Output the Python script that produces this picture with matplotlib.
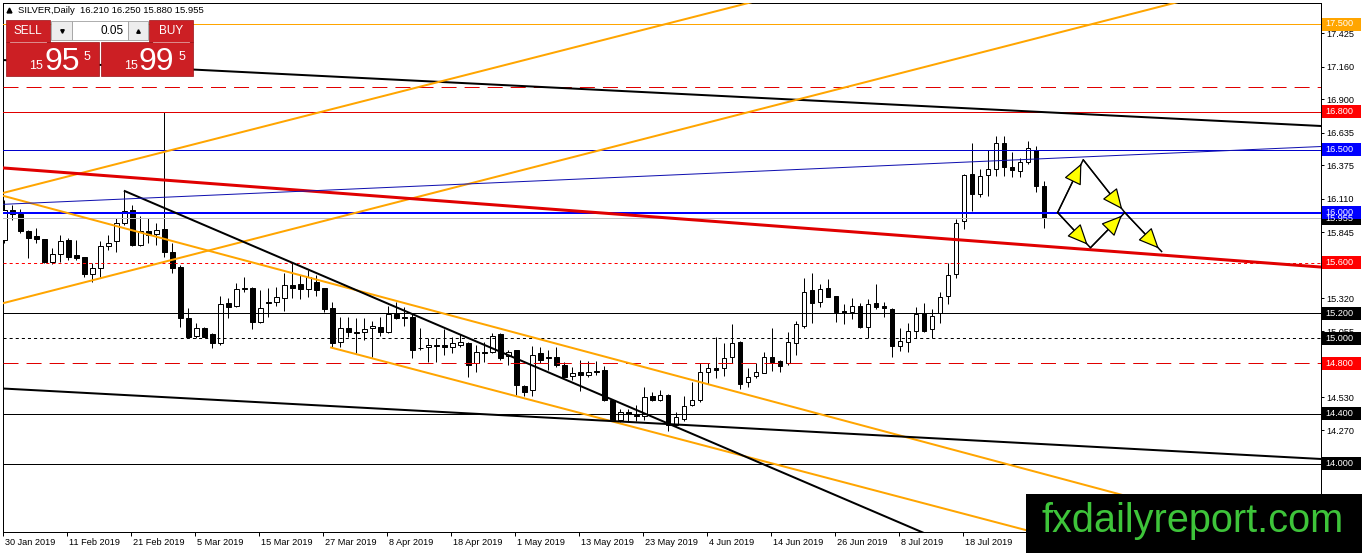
import numpy as np
import matplotlib.pyplot as plt
import matplotlib.transforms as mtransforms
from matplotlib.patches import Rectangle, FancyArrowPatch

plt.rcParams['font.family'] = ['Liberation Sans', 'DejaVu Sans']
plt.rcParams['lines.scale_dashes'] = False

W, H = 1362, 553
PX = 0.72  # one screen pixel in points (dpi 100)

# daily OHLC, SILVER, 30 Jan 2019 .. 1 Aug 2019
opens = [15.78, 16.02, 15.99, 15.85, 15.81, 15.79, 15.61, 15.67, 15.78, 15.66,
         15.65, 15.51, 15.56, 15.73, 15.77, 15.92, 16.02, 15.74, 15.85, 15.83,
         15.87, 15.69, 15.57, 15.16, 15.02, 15.08, 15.03, 14.96, 15.28, 15.26,
         15.39, 15.40, 15.13, 15.29, 15.29, 15.32, 15.42, 15.43, 15.39, 15.45,
         15.40, 15.24, 14.97, 15.08, 15.05, 15.05, 15.08, 15.09, 15.05, 15.19,
         15.17, 15.17, 14.92, 14.93, 14.95, 14.95, 14.93, 14.95, 14.96, 14.80,
         14.89, 14.89, 15.03, 14.86, 14.91, 14.62, 14.59, 14.88, 14.85, 14.85,
         14.79, 14.70, 14.73, 14.71, 14.74, 14.75, 14.51, 14.35, 14.41, 14.39,
         14.38, 14.54, 14.51, 14.55, 14.31, 14.36, 14.47, 14.51, 14.73, 14.76,
         14.76, 14.85, 14.97, 14.65, 14.70, 14.72, 14.85, 14.82, 14.80, 14.96,
         15.10, 15.38, 15.29, 15.40, 15.34, 15.22, 15.21, 15.26, 15.09, 15.28,
         15.26, 15.23, 14.94, 14.97, 15.06, 15.20, 15.07, 15.20, 15.34, 15.51,
         15.93, 16.31, 16.15, 16.30, 16.35, 16.55, 16.36, 16.33, 16.40, 16.50,
         16.21]
highs = [16.10, 16.06, 16.03, 15.86, 15.88, 15.79, 15.72, 15.82, 15.80, 15.78,
         15.65, 15.60, 15.77, 15.82, 15.96, 16.17, 16.06, 15.97, 15.96, 15.92,
         16.80, 15.76, 15.58, 15.24, 15.12, 15.09, 15.04, 15.34, 15.32, 15.44,
         15.49, 15.41, 15.38, 15.40, 15.41, 15.52, 15.60, 15.50, 15.54, 15.50,
         15.40, 15.29, 15.17, 15.17, 15.16, 15.16, 15.14, 15.17, 15.26, 15.29,
         15.25, 15.20, 15.08, 15.00, 15.00, 15.07, 15.01, 15.03, 14.97, 14.95,
         14.97, 15.04, 15.04, 14.91, 14.91, 14.63, 14.94, 14.93, 14.91, 14.93,
         14.81, 14.77, 14.83, 14.82, 14.82, 14.78, 14.52, 14.44, 14.44, 14.47,
         14.61, 14.57, 14.59, 14.56, 14.41, 14.54, 14.65, 14.80, 14.80, 15.01,
         14.96, 15.11, 14.98, 14.76, 14.80, 14.89, 15.08, 14.83, 15.05, 15.14,
         15.48, 15.52, 15.43, 15.47, 15.34, 15.27, 15.32, 15.28, 15.31, 15.43,
         15.29, 15.24, 15.08, 15.12, 15.25, 15.28, 15.23, 15.37, 15.60, 15.95,
         16.31, 16.55, 16.35, 16.50, 16.61, 16.61, 16.48, 16.43, 16.57, 16.53,
         16.25]
lows = [15.76, 15.94, 15.84, 15.64, 15.76, 15.60, 15.59, 15.61, 15.62, 15.62,
        15.49, 15.45, 15.49, 15.70, 15.69, 15.90, 15.73, 15.73, 15.76, 15.74,
        15.65, 15.52, 15.09, 15.01, 15.00, 15.01, 14.92, 14.95, 15.16, 15.25,
        15.37, 15.07, 15.12, 15.17, 15.26, 15.22, 15.32, 15.31, 15.33, 15.34,
        15.21, 14.93, 14.93, 15.01, 14.88, 14.99, 14.85, 15.02, 15.04, 15.15,
        15.10, 14.84, 14.91, 14.81, 14.81, 14.87, 14.88, 14.93, 14.69, 14.73,
        14.81, 14.88, 14.83, 14.79, 14.55, 14.54, 14.54, 14.80, 14.75, 14.77,
        14.69, 14.67, 14.58, 14.69, 14.71, 14.50, 14.34, 14.33, 14.34, 14.34,
        14.35, 14.50, 14.50, 14.26, 14.30, 14.34, 14.46, 14.49, 14.64, 14.68,
        14.70, 14.80, 14.60, 14.61, 14.68, 14.72, 14.74, 14.73, 14.79, 14.87,
        15.08, 15.12, 15.25, 15.33, 15.13, 15.11, 15.15, 15.08, 15.00, 15.23,
        15.17, 14.85, 14.90, 14.89, 15.00, 15.05, 15.00, 15.12, 15.27, 15.48,
        15.87, 16.01, 16.12, 16.13, 16.29, 16.29, 16.28, 16.28, 16.39, 16.16,
        15.88]
closes = [16.02, 15.99, 15.85, 15.80, 15.79, 15.61, 15.67, 15.77, 15.65, 15.64,
          15.51, 15.56, 15.73, 15.76, 15.92, 16.01, 15.74, 15.85, 15.82, 15.86,
          15.69, 15.56, 15.16, 15.01, 15.08, 15.01, 14.96, 15.27, 15.25, 15.39,
          15.40, 15.13, 15.24, 15.28, 15.33, 15.42, 15.40, 15.39, 15.49, 15.38,
          15.23, 14.96, 15.08, 15.05, 15.04, 15.07, 15.10, 15.05, 15.19, 15.16,
          15.16, 14.91, 14.92, 14.95, 14.94, 14.93, 14.96, 14.97, 14.79, 14.89,
          14.88, 15.02, 14.84, 14.89, 14.63, 14.57, 14.87, 14.83, 14.84, 14.79,
          14.69, 14.72, 14.71, 14.73, 14.73, 14.51, 14.35, 14.41, 14.40, 14.38,
          14.53, 14.51, 14.55, 14.31, 14.37, 14.46, 14.51, 14.73, 14.76, 14.75,
          14.84, 14.96, 14.64, 14.69, 14.73, 14.85, 14.81, 14.78, 14.97, 15.11,
          15.37, 15.28, 15.39, 15.33, 15.21, 15.20, 15.26, 15.09, 15.27, 15.25,
          15.24, 14.94, 14.98, 15.06, 15.19, 15.06, 15.18, 15.33, 15.50, 15.92,
          16.30, 16.15, 16.29, 16.35, 16.55, 16.36, 16.34, 16.40, 16.51, 16.21,
          15.955]

date_labels = ['30 Jan 2019', '11 Feb 2019', '21 Feb 2019', '5 Mar 2019', '15 Mar 2019',
               '27 Mar 2019', '8 Apr 2019', '18 Apr 2019', '1 May 2019', '13 May 2019',
               '23 May 2019', '4 Jun 2019', '14 Jun 2019', '26 Jun 2019', '8 Jul 2019',
               '18 Jul 2019', '30 Jul 2019']
label_step = 8

price_ticks = [17.425, 17.160, 16.900, 16.635, 16.375, 16.110, 15.845, 15.320,
               15.055, 14.530, 14.270, 13.745]

# horizontal levels drawn on the chart
levels = [17.5, 17.0, 16.8, 16.5, 16.0, 15.955, 15.6, 15.2, 15.0, 14.8, 14.4, 14.0]
level_colors = ['#FFA500', '#E00000', '#E00000', '#0000CC', '#0000FF', '#C0C0C0',
                '#FF0000', 'black', 'black', '#E00000', 'black', 'black']
level_dash = ['solid', 'long', 'solid', 'solid', 'solid', 'solid',
              'dot', 'solid', 'dot', 'long', 'solid', 'solid']
level_px = [1, 1, 1, 1, 2, 1, 1, 1, 1, 1, 1, 1]
level_tag = ['#FFA500', None, '#FF0000', '#0000FF', '#0000FF', 'black',
             '#FF0000', 'black', 'black', '#FF0000', 'black', 'black']

# trend lines: (bar, price) -> (bar, price), drawn as rays to the right
trend_lines = [
    ((-1.0, 17.216), (164.5, 16.689)),
    ((-1.0, 16.142), (92.6, 17.660)),
    ((-1.0, 15.265), (144.5, 17.638)),
    ((-1.0, 16.148), (140.75, 13.737)),
    ((40.75, 14.928), (127.6, 13.476)),
    ((14.96, 16.174), (113.25, 13.498)),
    ((-1.0, 14.603), (164.5, 14.040)),
    ((-1.0, 16.359), (164.5, 15.567)),
    ((-1.0, 16.063), (164.5, 16.525)),
]
trend_colors = ['black', '#FFA500', '#FFA500', '#FFA500', '#FFA500',
                'black', 'black', '#E00000', '#1010B0']
trend_px = [2, 2, 2, 2, 2, 2, 2, 3, 1]

# projected zigzag with arrows
zig_main = [(131.7, 16.0), (134.9, 16.42), (140.1, 16.0), (144.7, 15.69)]
zig_alt = [(131.7, 16.0), (135.8, 15.72), (140.1, 16.0)]

fig = plt.figure(figsize=(W / 100, H / 100), dpi=100)
fig.patch.set_facecolor('white')
ax = fig.add_axes([3 / W, 1 - 532 / H, 1318 / W, 529 / H])
ax.set_xlim(-0.125, 164.625)
ax.set_ylim(17.5 - (532 - 24) / 125.7, 17.5 + 21 / 125.7)

bars = np.arange(len(opens))
o = np.array(opens)
c = np.array(closes)
ax.vlines(bars, lows, highs, color='black', lw=PX, zorder=2)
ax.bar(bars, np.abs(c - o), bottom=np.minimum(o, c), width=0.6,
       color=np.where(c >= o, 'white', 'black'), edgecolor='black',
       linewidth=PX, zorder=3)

dash_map = {'solid': '-', 'long': (0, (10.8, 5.8)), 'dot': (0, (2.2, 2.2))}
for lv, col, ds, w in zip(levels, level_colors, level_dash, level_px):
    ax.axhline(lv, color=col, linestyle=dash_map[ds], lw=w * PX, zorder=4)

for ((b1, p1), (b2, p2)), col, w in zip(trend_lines, trend_colors, trend_px):
    slope = (p2 - p1) / (b2 - b1)
    bx = np.array([b1, 200.0])
    ax.plot(bx, p1 + slope * (bx - b1), color=col, lw=w * PX,
            solid_capstyle='butt', zorder=5)

for path in (zig_main, zig_alt):
    zx, zy = zip(*path)
    ax.plot(zx, zy, color='black', lw=1.5 * PX, zorder=6)
    for a, b in zip(path[:-1], path[1:]):
        ax.add_patch(FancyArrowPatch(a, b, arrowstyle='-|>,head_length=1.0,head_width=0.45',
                                     mutation_scale=13, shrinkA=0, shrinkB=3,
                                     facecolor='#FFFF00', edgecolor='black',
                                     lw=1.2 * PX, zorder=7))

for s in ax.spines.values():
    s.set_linewidth(PX)
    s.set_color('black')

ax.yaxis.tick_right()
ax.set_yticks(price_ticks)
ax.set_yticklabels([f'{t:.3f}' for t in price_ticks])
ax.tick_params(axis='y', direction='out', length=3 * PX, width=PX, pad=2,
               labelsize=6.6, colors='black')

ax.set_xticks(np.arange(len(date_labels)) * label_step - 0.15)
ax.set_xticklabels(date_labels)
ax.tick_params(axis='x', direction='out', length=4 * PX, width=PX, pad=1.5,
               labelsize=6.6)
shift = mtransforms.ScaledTranslation(2 / 100, 0, fig.dpi_scale_trans)
for lab in ax.get_xticklabels():
    lab.set_horizontalalignment('left')
    lab.set_transform(lab.get_transform() + shift)

# price tags on the right scale
tag_tr = mtransforms.blended_transform_factory(ax.transAxes, ax.transData)
order = sorted(range(len(levels)), key=lambda i: levels[i] == 16.0)
for i in order:
    if level_tag[i] is None:
        continue
    lv = levels[i]
    ax.add_patch(Rectangle((1 + 1 / 1318, lv - 6.5 / 125.7), 39 / 1318, 13 / 125.7,
                           transform=tag_tr, facecolor=level_tag[i], edgecolor='none',
                           clip_on=False, zorder=8))
    ax.text(1 + 4 / 1318, lv, f'{lv:.3f}', transform=tag_tr, color='white',
            fontsize=6.6, va='center', ha='left', clip_on=False, zorder=9)

# overlay in screen pixels: header, trade panel, watermark
ov = fig.add_axes([0, 0, 1, 1], zorder=10)
ov.set_xlim(0, W)
ov.set_ylim(H, 0)
ov.axis('off')
ov.patch.set_alpha(0)

ov.plot([9], [10], marker='^', color='black', markersize=3.5)
ov.text(18, 10.5, f'SILVER,Daily  {opens[-1]:.3f} {highs[-1]:.3f} {lows[-1]:.3f} {closes[-1]:.3f}',
        fontsize=6.8, va='center', ha='left', color='black')

red = '#CC1F24'
for (x0, y0, x1, y1) in [(6, 20, 50, 42), (149, 20, 193, 42), (6, 42, 99, 76), (101, 42, 193, 76)]:
    ov.add_patch(Rectangle((x0, y0), x1 - x0, y1 - y0, facecolor=red, edgecolor='#9A1015', lw=0.5))
ov.plot([10, 46], [42, 42], color='#E8A0A0', lw=0.6)
ov.plot([153, 189], [42, 42], color='#E8A0A0', lw=0.6)
for (x0, x1, fc) in [(51, 72, '#EDEDED'), (72, 128, 'white'), (128, 148, '#EDEDED')]:
    ov.add_patch(Rectangle((x0, 21), x1 - x0, 19, facecolor=fc, edgecolor='#A0A0A0', lw=0.6))
ov.plot([61.5], [31], marker='v', color='black', markersize=2.5)
ov.plot([138], [30.5], marker='^', color='black', markersize=2.5)
ov.text(124, 31, '0.05', fontsize=8.5, ha='right', va='center', color='black')
ov.text(28, 31.5, 'SELL', fontsize=8.5, ha='center', va='center', color='white')
ov.text(171, 31.5, 'BUY', fontsize=8.5, ha='center', va='center', color='white')

bid = f'{closes[-1]:.3f}'
ask = '15.995'
for (xs, price) in [(44, bid), (139, ask)]:
    big, small, tail = price[:2], price[3:5], price[5:]
    ov.text(xs - 1, 69, big, fontsize=9, ha='right', va='baseline', color='white')
    ov.text(xs, 70, small, fontsize=23, ha='left', va='baseline', color='white')
    ov.text(xs + 40, 60, tail, fontsize=9, ha='left', va='baseline', color='white')

ov.add_patch(Rectangle((1026, 494), W - 1026, H - 494, facecolor='black', edgecolor='none'))
ov.text(1193, 532, 'fxdailyreport.com', fontsize=28.6, ha='center', va='baseline',
        color='#3EC43A')

fig.savefig('out.png', dpi=100)
